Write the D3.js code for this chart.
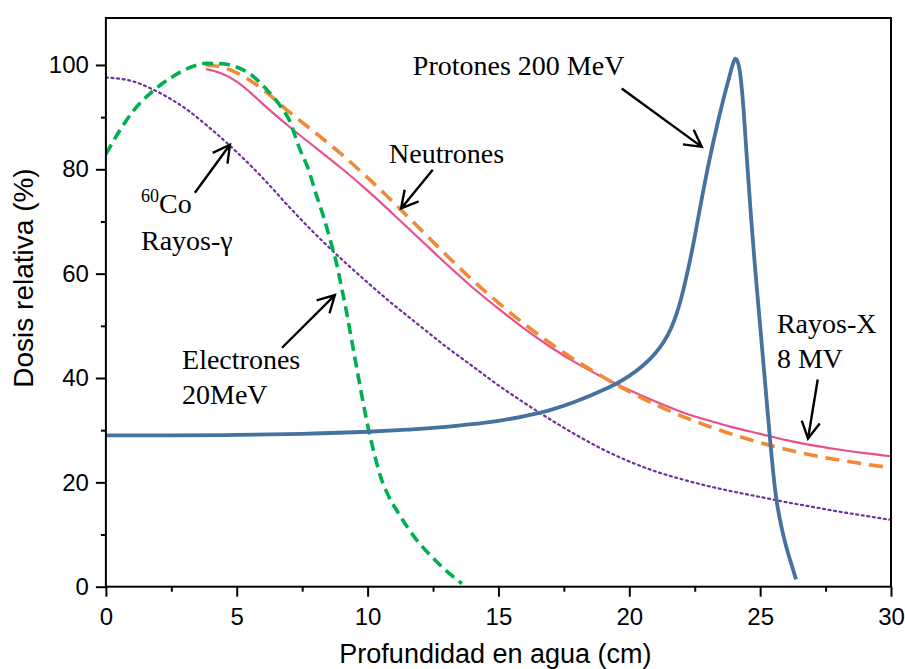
<!DOCTYPE html>
<html>
<head>
<meta charset="utf-8">
<script src="https://cdn.jsdelivr.net/npm/d3@7"></script>
<style>
  html, body { margin: 0; padding: 0; background: #fff; }
  svg { display: block; }
</style>
</head>
<body>
<svg id="chart" width="905" height="669"></svg>
<script>
// Depth–dose curves in water (depth in cm, relative dose in %)
const protonDepth = [0, 2.5, 5, 7.5, 10, 11, 12, 13, 14, 15, 16, 17, 18, 19, 19.5, 20.0, 20.5, 21.0, 21.3, 21.6, 21.8, 22.0, 22.2, 22.4, 22.6, 22.8, 23.0, 23.2, 23.4, 23.6, 23.8, 23.95, 24.05, 24.15, 24.25, 24.35, 24.5, 24.65, 24.8, 25.0, 25.2, 25.4, 25.6, 25.8, 26.0, 26.2, 26.37];
const protonDose  = [29.0, 29.0, 29.1, 29.3, 29.7, 29.95, 30.25, 30.65, 31.15, 31.8, 32.7, 33.9, 35.6, 37.7, 38.9, 40.4, 42.3, 44.8, 46.8, 49.6, 52.2, 55.6, 59.8, 64.5, 69.8, 75.2, 80.3, 85.0, 89.4, 93.5, 97.3, 100.0, 101.2, 100.5, 97.8, 92.5, 81.5, 71.0, 61.5, 50.0, 38.5, 27.0, 17.5, 11.8, 7.6, 4.2, 1.4];

const electronDepth = [0, 0.5, 1.05, 1.8, 2.5, 3.2, 3.85, 4.5, 4.87, 5.5, 6.14, 6.6, 7.0, 7.4, 7.7, 8.06, 8.31, 8.57, 8.82, 9.0, 9.2, 9.4, 9.6, 9.84, 10.05, 10.25, 10.5, 10.8, 11.2, 11.9, 12.4, 12.8, 13.6];
const electronDose  = [82.9, 87.2, 91.2, 95.0, 97.6, 99.5, 100.3, 100.2, 99.8, 98.3, 95.3, 92.6, 89.5, 84.0, 80.5, 74.8, 71.0, 66.5, 61.8, 57.5, 52.5, 47.0, 41.5, 35.0, 29.8, 25.6, 21.0, 17.4, 13.9, 8.8, 6.0, 4.0, 0.6];

const cobaltDepth = [0, 1, 2, 3, 4, 5, 6, 7, 8, 9, 10, 11, 12, 13, 14, 15, 16, 17, 18, 19, 20, 21, 22, 23, 24, 25, 26, 27, 28, 29, 30];
const cobaltDose  = [97.6, 96.9, 94.8, 91.8, 87.8, 83.3, 78.3, 72.8, 67.6, 62.8, 58.3, 54.0, 50.0, 46.0, 42.3, 38.6, 35.2, 32.0, 29.0, 26.3, 24.0, 22.1, 20.6, 19.3, 18.2, 17.2, 16.2, 15.3, 14.4, 13.6, 12.8];

const neutronDepth = [3.8, 4.5, 5, 6, 7, 8, 9, 10, 11, 12, 13, 14, 15, 16, 17, 18, 19, 20, 21, 22, 23, 24, 25, 26, 27, 28, 29, 30];
const neutronDose  = [100.0, 99.5, 98.5, 95.3, 91.0, 87.0, 82.9, 78.4, 73.6, 68.6, 63.6, 58.8, 54.4, 50.3, 46.6, 43.2, 40.2, 37.4, 34.9, 32.7, 30.8, 29.1, 27.6, 26.3, 25.2, 24.3, 23.5, 22.8];

const xrayDepth = [3.83, 4.4, 5, 5.5, 6, 7, 8, 9, 10, 11, 12, 13, 14, 15, 16, 17, 18, 19, 20, 21, 22, 23, 24, 25, 26, 27, 28, 29, 30];
const xrayDose  = [99.2, 98.4, 96.8, 94.8, 92.5, 88.2, 84.2, 80.2, 75.9, 71.3, 66.6, 61.9, 57.4, 53.3, 49.4, 45.9, 42.8, 40.1, 37.7, 35.5, 33.5, 31.9, 30.5, 29.3, 28.1, 27.1, 26.3, 25.6, 25.0];

const xMajorTicks = [0, 5, 10, 15, 20, 25, 30];
const xMinorTicks = [2.5, 7.5, 12.5, 17.5, 22.5, 27.5];
const yMajorTicks = [0, 20, 40, 60, 80, 100];
const yMinorTicks = [10, 30, 50, 70, 90];

const xTitle = "Profundidad en agua (cm)";
const yTitle = "Dosis relativa (%)";

const svg = d3.select("#chart");
const plotLeft = 105.9, plotRight = 891, plotTop = 18, plotBottom = 586.7;

const x = d3.scaleLinear().domain([0, 30]).range([plotLeft, plotRight]);
const y = d3.scaleLinear().domain([0, 109]).range([plotBottom, plotTop]);

svg.append("defs").append("clipPath").attr("id", "plotClip")
  .append("rect").attr("x", plotLeft).attr("y", plotTop)
  .attr("width", plotRight - plotLeft).attr("height", plotBottom - plotTop);

// Axes
function styleAxis(g) {
  g.select(".domain").remove();
  g.selectAll(".tick line").attr("stroke", "#000").attr("stroke-width", 2);
  g.selectAll(".tick text").attr("fill", "#000")
    .style("font-family", "'Liberation Sans', Arial, sans-serif")
    .style("font-size", "24px");
}

svg.append("g").attr("transform", `translate(0,${plotBottom})`)
  .call(d3.axisBottom(x).tickValues(xMajorTicks).tickSize(10).tickPadding(11).tickFormat(d3.format("d")))
  .call(styleAxis);
svg.append("g").attr("transform", `translate(0,${plotBottom})`)
  .call(d3.axisBottom(x).tickValues(xMinorTicks).tickSize(5).tickFormat(""))
  .call(styleAxis);
svg.append("g").attr("transform", `translate(${plotLeft},0)`)
  .call(d3.axisLeft(y).tickValues(yMajorTicks).tickSize(10).tickPadding(7).tickFormat(d3.format("d")))
  .call(styleAxis);
svg.append("g").attr("transform", `translate(${plotLeft},0)`)
  .call(d3.axisLeft(y).tickValues(yMinorTicks).tickSize(5).tickFormat(""))
  .call(styleAxis);

// Curves
const plot = svg.append("g").attr("clip-path", "url(#plotClip)");
const series = [
  { xs: cobaltDepth,   ys: cobaltDose,   color: "#7030a0", width: 2.2, dash: "2,3.6", cap: "round" },
  { xs: xrayDepth,     ys: xrayDose,     color: "#e8508c", width: 2.2, dash: null },
  { xs: neutronDepth,  ys: neutronDose,  color: "#f08a35", width: 3.6, dash: "14,8" },
  { xs: electronDepth, ys: electronDose, color: "#00b050", width: 3.6, dash: "11,6" },
  { xs: protonDepth,   ys: protonDose,   color: "#4672a0", width: 3.8, dash: null }
];
const line = d3.line().x(d => x(d[0])).y(d => y(d[1])).curve(d3.curveMonotoneX);
series.forEach(s => {
  const pts = s.xs.map((v, i) => [v, s.ys[i]]);
  plot.append("path").datum(pts)
    .attr("d", line)
    .attr("fill", "none")
    .attr("stroke", s.color)
    .attr("stroke-width", s.width)
    .attr("stroke-linecap", s.cap || "butt")
    .attr("stroke-linejoin", "round")
    .attr("stroke-dasharray", s.dash);
});

// Frame
svg.append("rect").attr("x", plotLeft).attr("y", plotTop)
  .attr("width", plotRight - plotLeft).attr("height", plotBottom - plotTop)
  .attr("fill", "none").attr("stroke", "#000").attr("stroke-width", 2);

// Annotations: arrows (start → tip, in data units)
const arrowFrom = [[19.71, 95.5], [3.40, 75.5], [12.49, 79.9], [6.73, 45.8], [27.2, 39.7]];
const arrowTo   = [[22.77, 84.3], [4.74, 84.7], [11.28, 72.5], [8.75, 55.9], [26.83, 28.4]];

const ann = svg.append("g");
arrowFrom.forEach((a, i) => {
  const x1 = x(a[0]), y1 = y(a[1]);
  const x2 = x(arrowTo[i][0]), y2 = y(arrowTo[i][1]);
  const ang = Math.atan2(y2 - y1, x2 - x1);
  const head = 19, spread = 0.5;
  const h1 = [x2 - head * Math.cos(ang - spread), y2 - head * Math.sin(ang - spread)];
  const h2 = [x2 - head * Math.cos(ang + spread), y2 - head * Math.sin(ang + spread)];
  ann.append("path")
    .attr("d", `M${x1},${y1}L${x2},${y2}M${h1[0]},${h1[1]}L${x2},${y2}L${h2[0]},${h2[1]}`)
    .attr("fill", "none").attr("stroke", "#000").attr("stroke-width", 2.4)
    .attr("stroke-linejoin", "miter");
});

// Annotation labels
const labelText = ["Protones 200 MeV", "Neutrones", "Rayos-\u03b3", "Electrones", "20MeV", "Rayos-X", "8 MV"];
const labelPos  = [[11.73, 98.1], [10.82, 81.2], [1.34, 64.6], [2.91, 41.7], [2.91, 35.0], [25.64, 48.6], [25.64, 41.9]];
const serif = "'Liberation Serif', 'Times New Roman', serif";
labelText.forEach((t, i) => {
  ann.append("text").attr("x", x(labelPos[i][0])).attr("y", y(labelPos[i][1]))
    .style("font-family", serif).style("font-size", "28px").attr("fill", "#000")
    .text(t);
});
const co = ann.append("text").attr("x", x(1.34)).attr("y", y(71.6))
  .style("font-family", serif).style("font-size", "28px").attr("fill", "#000");
co.append("tspan").style("font-size", "18px").attr("dy", -11).text("60");
co.append("tspan").attr("dy", 11).text("Co");

// Axis titles
svg.append("text").attr("x", (plotLeft + plotRight) / 2 - 3).attr("y", 663)
  .attr("text-anchor", "middle")
  .style("font-family", "'Liberation Sans', Arial, sans-serif").style("font-size", "27px")
  .text(xTitle);
svg.append("text").attr("transform", `translate(33,${278}) rotate(-90)`)
  .attr("text-anchor", "middle")
  .style("font-family", "'Liberation Sans', Arial, sans-serif").style("font-size", "28px")
  .text(yTitle);
</script>
</body>
</html>
